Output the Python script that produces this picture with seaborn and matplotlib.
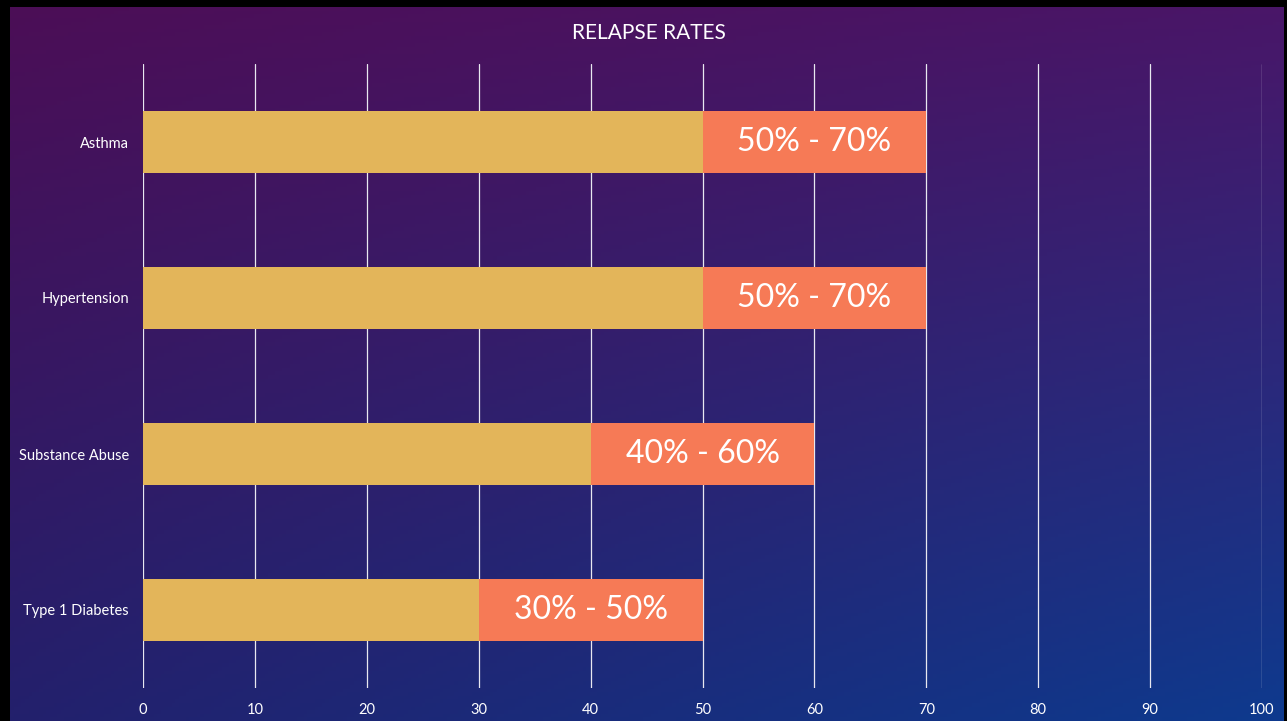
import numpy as np
import pandas as pd
import matplotlib
matplotlib.use('Agg')
import matplotlib.pyplot as plt
import seaborn as sns
from matplotlib.colors import to_rgb

# DATOS
categorias = ["Asthma", "Hypertension", "Substance Abuse", "Type 1 Diabetes"]
bajo = [50, 50, 40, 30]
alto = [70, 70, 60, 50]
etiquetas = [f"{b}% - {a}%" for b, a in zip(bajo, alto)]
ticks_x = list(range(0, 101, 10))

df = pd.DataFrame({"Categoria": categorias, "Bajo": bajo, "Alto": alto})

sns.set_theme(style="white")
plt.rcParams['font.family'] = ['Lato', 'DejaVu Sans']

W, H = 1287, 721
fig = plt.figure(figsize=(W / 100, H / 100), dpi=100)

# fondo degradado (morado arriba, azul abajo)
tl, tr = np.array(to_rgb("#4c0e56")), np.array(to_rgb("#4a1668"))
bl, br = np.array(to_rgb("#23206c")), np.array(to_rgb("#0e3a8e"))
yy, xx = np.mgrid[0:1:200j, 0:1:360j]
grad = ((1 - xx)[..., None] * ((1 - yy)[..., None] * tl + yy[..., None] * bl)
        + xx[..., None] * ((1 - yy)[..., None] * tr + yy[..., None] * br))
bg = fig.add_axes([0, 0, 1, 1], zorder=-10)
bg.imshow(grad, aspect='auto', extent=[0, 1, 0, 1], origin='upper')
bg.set_xlim(0, 1)
bg.set_ylim(0, 1)
bg.axis('off')
# marco negro
bg.add_patch(plt.Rectangle((0, 0), 10 / W, 1, color='black', lw=0))
bg.add_patch(plt.Rectangle((0, 1 - 7 / H), 1, 7 / H, color='black', lw=0))
bg.add_patch(plt.Rectangle((1 - 3 / W, 0), 3 / W, 1, color='black', lw=0))

ax = fig.add_axes([143 / W, 1 - 688 / H, (1262 - 143) / W, (688 - 64) / H])
ax.set_facecolor('none')

sns.barplot(data=df, y="Categoria", x="Alto", orient='h', color="#f67a56",
            saturation=1, width=0.4, linewidth=0, ax=ax, zorder=3)
sns.barplot(data=df, y="Categoria", x="Bajo", orient='h', color="#e3b55a",
            saturation=1, width=0.4, linewidth=0, ax=ax, zorder=4)

for i, (b, a, t) in enumerate(zip(bajo, alto, etiquetas)):
    ax.text((b + a) / 2, i, t, ha='center', va='center', color='white',
            fontsize=23, zorder=5)

ax.set_xlim(0, 100)
ax.set_ylim(3.5, -0.5)
ax.set_xticks(ticks_x)
ax.xaxis.grid(True, color='#e8e8f0', linewidth=0.9, zorder=1)
ax.set_axisbelow(True)
for s in ax.spines.values():
    s.set_visible(False)
ax.tick_params(axis='x', colors='white', labelsize=10.5, length=0, pad=11)
ax.tick_params(axis='y', colors='white', labelsize=10.5, length=0, pad=10)
ax.set_xlabel("")
ax.set_ylabel("")

fig.text(649 / W, 1 - 33 / H, "RELAPSE RATES", ha='center',
         va='center', color='white', fontsize=15)

plt.savefig("out.png", dpi=100)
plt.close()
